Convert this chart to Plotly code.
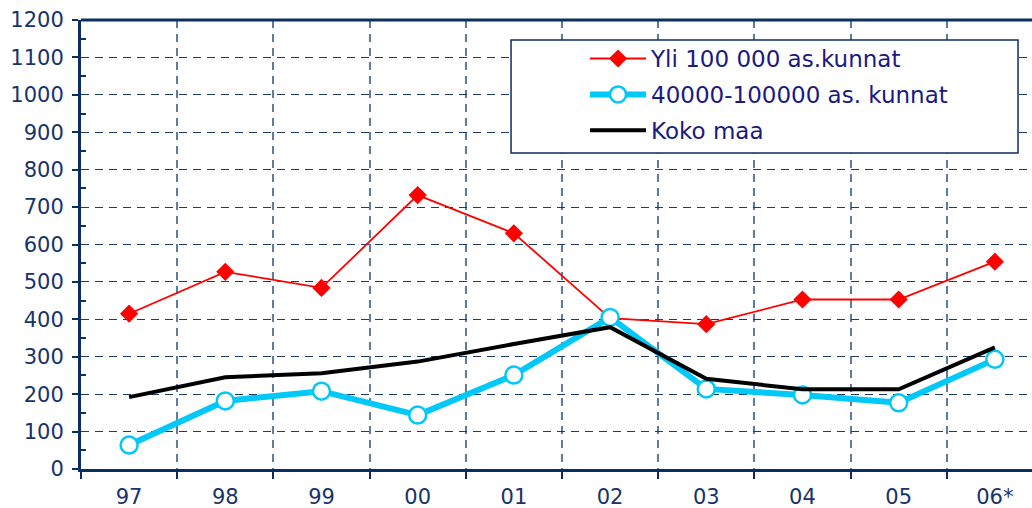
import plotly.graph_objects as go

categories = ["97", "98", "99", "00", "01", "02", "03", "04", "05", "06*"]
yli_100000 = [415, 527, 484, 732, 630, 403, 387, 453, 453, 554]
kunnat_40_100 = [64, 182, 208, 144, 251, 405, 214, 198, 177, 293]
koko_maa = [192, 245, 256, 287, 334, 379, 241, 213, 213, 325]

navy = "#0B2E63"
text_col = "#17336B"

fig = go.Figure()
fig.add_trace(go.Scatter(
    x=categories, y=yli_100000, name="Yli 100 000 as.kunnat",
    mode="lines+markers", legendgroup="a",
    line=dict(color="#FF0000", width=1.8),
    marker=dict(symbol="diamond", size=14, color="#FF0000"),
))
fig.add_trace(go.Scatter(
    x=categories, y=kunnat_40_100, name="40000-100000 as. kunnat",
    mode="lines+markers", legendgroup="b",
    line=dict(color="#00C8F8", width=6),
    marker=dict(symbol="circle", size=17, color="white",
                line=dict(color="#00C8F8", width=2.5)),
))
fig.add_trace(go.Scatter(
    x=categories, y=koko_maa, name="Koko maa",
    mode="lines", legendgroup="c",
    line=dict(color="#000000", width=4),
))

fig.update_layout(
    width=1032, height=508,
    margin=dict(l=81, r=0, t=20, b=39, autoexpand=False),
    paper_bgcolor="white", plot_bgcolor="white",
    font=dict(family="DejaVu Sans", size=21, color=text_col),
    showlegend=True,
    legend=dict(
        x=0.530, y=0.962, xanchor="left", yanchor="top",
        bgcolor="rgba(0,0,0,0)", borderwidth=0,
        font=dict(size=23, color="#1A1A80"),
        itemwidth=56, tracegroupgap=3,
    ),
    xaxis=dict(
        type="category",
        range=[-0.5, 9.386],
        automargin=False,
        tickson="boundaries",
        ticks="outside", ticklen=7, tickwidth=2, tickcolor=navy,
        showline=True, linecolor=navy, linewidth=3,
        showgrid=True, gridcolor="#5F7BA3", griddash="8px,6px", gridwidth=1.5,
        tickfont=dict(size=21, color=text_col),
        ticklabelstandoff=7,
    ),
    yaxis=dict(
        range=[0, 1200],
        automargin=False,
        tickvals=list(range(0, 1201, 100)),
        ticks="outside", ticklen=6, tickwidth=2, tickcolor=navy,
        showline=True, linecolor=navy, linewidth=3,
        showgrid=True, gridcolor="#1E3A66", griddash="8px,6px", gridwidth=1.2,
        zeroline=False,
        minor=dict(tickvals=list(range(50, 1200, 100)), ticks="inside",
                   ticklen=5, tickwidth=1.5, tickcolor=navy, showgrid=False),
        tickfont=dict(size=21, color=text_col),
        ticklabelstandoff=4,
    ),
)
# top border line of the plot area
fig.add_shape(type="line", xref="paper", yref="paper", x0=0, x1=1, y0=1, y1=1,
              line=dict(color=navy, width=3))
# legend frame
fig.add_shape(type="rect", xref="paper", yref="paper",
              x0=0.4522, x1=0.9853, y0=0.7038, y1=0.9555,
              fillcolor="white", line=dict(color=navy, width=1.5), layer="above")

fig.write_html("out.html", config={"displayModeBar": False},
               post_script="document.body.style.margin='0';")
